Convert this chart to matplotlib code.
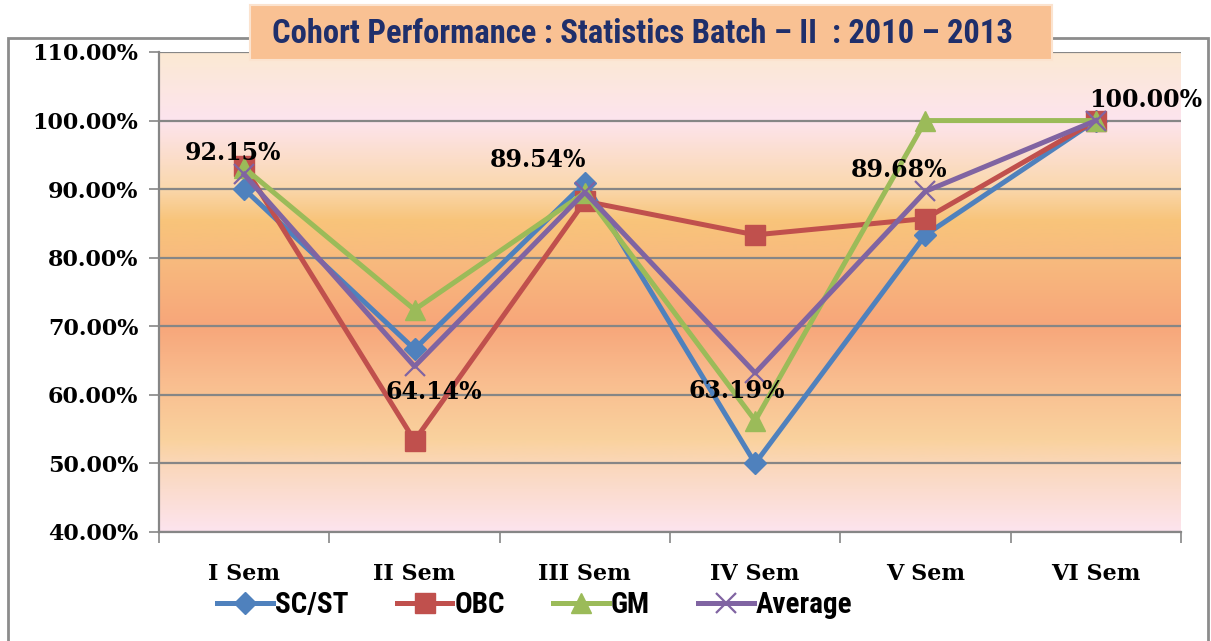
import numpy as np
import matplotlib
matplotlib.use("Agg")
import matplotlib.pyplot as plt
from matplotlib.colors import LinearSegmentedColormap
from matplotlib.patches import Rectangle
from matplotlib.ticker import FuncFormatter, FixedLocator

semesters = ["I Sem", "II Sem", "III Sem", "IV Sem", "V Sem", "VI Sem"]
sc_st = [90.00, 66.67, 90.91, 50.00, 83.33, 100.00]
obc = [93.33, 53.33, 88.24, 83.33, 85.71, 100.00]
gm = [93.10, 72.42, 89.47, 56.24, 100.00, 100.00]
average = [92.15, 64.14, 89.54, 63.19, 89.68, 100.00]

title = "Cohort Performance : Statistics Batch \u2013 II  : 2010 \u2013 2013"

plt.rcParams["font.family"] = "DejaVu Serif"
plt.rcParams["font.weight"] = "bold"

narrow = ["Roboto Condensed", "Roboto", "DejaVu Sans"]

fig = plt.figure(figsize=(12.11, 6.41), dpi=100)
fig.patch.set_facecolor("white")

# outer chart border
fig.patches.append(Rectangle((8 / 1211, -0.01), 1200 / 1211, 1 - 38 / 641 + 0.01,
                             transform=fig.transFigure, fill=False,
                             edgecolor="#8c8c8c", linewidth=2, zorder=0))

ax = fig.add_axes([159 / 1211, 109 / 641, 1022 / 1211, 480 / 641])

# gradient background of plot area
stops = [
    (0.00, "#fde4ee"),
    (0.13, "#fad8be"),
    (0.19, "#fad29e"),
    (0.32, "#f9bc8e"),
    (0.43, "#f7a67a"),
    (0.58, "#f8bc7e"),
    (0.65, "#f8c47a"),
    (0.72, "#fad8ae"),
    (0.86, "#fde4ee"),
    (1.00, "#fbe9d3"),
]
cmap = LinearSegmentedColormap.from_list("bg", stops)
grad = np.linspace(0, 1, 256).reshape(-1, 1)
x = np.arange(len(semesters))
ax.imshow(grad, aspect="auto", cmap=cmap, origin="lower",
          extent=(-0.5, len(semesters) - 0.5, 40, 110), zorder=0)

ax.set_xlim(-0.5, len(semesters) - 0.5)
ax.set_ylim(40, 110)

ax.yaxis.set_major_locator(FixedLocator(np.arange(40, 111, 10)))
ax.yaxis.set_major_formatter(FuncFormatter(lambda v, p: f"{v:.2f}%"))
ax.grid(axis="y", color="#868686", linewidth=1.6, zorder=1)
ax.set_axisbelow(True)

ax.set_xticks(x)
ax.set_xticklabels(semesters)
ax.set_xticks(np.arange(-0.5, len(semesters), 1), minor=True)
ax.tick_params(axis="x", which="major", length=0, pad=22, labelsize=16)
ax.tick_params(axis="x", which="minor", length=8, width=1.2, color="#868686", direction="out")
ax.tick_params(axis="y", length=7, width=1.2, color="#868686", direction="out", pad=8,
               labelsize=16)

for s in ["top", "right"]:
    ax.spines[s].set_visible(False)
for s in ["left", "bottom"]:
    ax.spines[s].set_color("#868686")
    ax.spines[s].set_linewidth(1.6)

lw = 3.6
ax.plot(x, sc_st, color="#4f81bd", lw=lw, marker="D", ms=11, label="SC/ST", zorder=3)
ax.plot(x, obc, color="#c0504d", lw=lw, marker="s", ms=14, label="OBC", zorder=3)
ax.plot(x, gm, color="#9bbb59", lw=lw, marker="^", ms=14, label="GM", zorder=3)
ax.plot(x, average, color="#8064a2", lw=lw, marker="x", ms=14, mew=1.6,
        label="Average", zorder=3)

# data labels for the average series
offsets = [(-11, 21), (19, -26), (-47, 32), (-18, -18), (-26, 21), (50, 21)]
for xi, v, (dx, dy) in zip(x, average, offsets):
    ax.annotate(f"{v:.2f}%", (xi, v), xytext=(dx, dy), textcoords="offset pixels",
                ha="center", va="center", fontsize=17, fontweight="bold",
                color="black", zorder=5)

leg = fig.legend(loc="center", bbox_to_anchor=(535 / 1211, 1 - 605 / 641), ncol=4,
                 frameon=False, handlelength=1.9, columnspacing=1.65, handletextpad=0.08,
                 prop={"family": narrow, "weight": "bold", "size": 21})

# title box
fig.patches.append(Rectangle((250 / 1211, 1 - 60 / 641), 802 / 1211, 55 / 641,
                             transform=fig.transFigure, facecolor="#f9c193",
                             edgecolor="#fbe3cf", linewidth=1.5, zorder=5))
fig.text(643 / 1211, 1 - 34 / 641, title, ha="center", va="center",
         fontsize=23.5, fontweight="bold", color="#1f2f6b",
         family=narrow, zorder=6)

fig.savefig("out.png", dpi=100)
